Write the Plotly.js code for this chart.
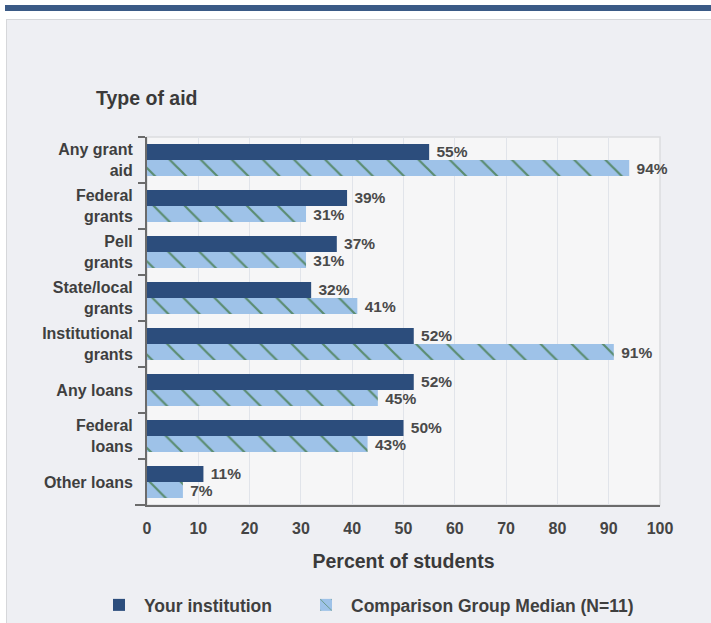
<!DOCTYPE html>
<html><head><meta charset="utf-8">
<script src="https://cdn.plot.ly/plotly-3.0.1.min.js"></script>
<style>
body{margin:0;background:#fff;width:711px;height:623px;overflow:hidden;position:relative;font-family:"Liberation Sans",Arial,sans-serif;}
#band{position:absolute;left:5px;top:5px;right:0;height:6px;background:#3b5a86;}
#panel{position:absolute;left:6px;top:19px;right:-2px;bottom:-2px;background:#eeeff3;border:1px solid #d6d7da;}
#chart{position:absolute;left:0;top:0;width:711px;height:623px;}
</style></head><body>
<div id="band"></div><div id="panel"></div><div id="chart"></div>
<script>
const categories = ["Any grant<br>aid","Federal<br>grants","Pell<br>grants","State/local<br>grants","Institutional<br>grants","Any loans","Federal<br>loans","Other loans"];
const yourInstitution = [55,39,37,32,52,52,50,11];
const comparisonMedian = [94,31,31,41,91,45,43,7];
const xTicks = [0,10,20,30,40,50,60,70,80,90,100];
const seriesNames = ["Your institution","Comparison Group Median (N=11)"];

const labelFont = {family:"Liberation Sans, Arial, sans-serif", size:15.5, color:"#4a4a4a", weight:"bold"};
const fmt = v => "\u00A0<b>" + v + "%</b>";
const traces = [
  {type:"bar", orientation:"h", name:seriesNames[0], legend:"legend", y:categories, x:yourInstitution,
   text:yourInstitution.map(fmt), textposition:"outside", textfont:labelFont, cliponaxis:false, constraintext:"none",
   marker:{color:"#2c4d7c", line:{width:0}}, hoverinfo:"x+y"},
  {type:"bar", orientation:"h", name:seriesNames[1], legend:"legend2", y:categories, x:comparisonMedian,
   text:comparisonMedian.map(fmt), textposition:"outside", textfont:labelFont, cliponaxis:false, constraintext:"none",
   marker:{color:"#9ec2e8", line:{width:0}, pattern:{shape:"\\", bgcolor:"#9ec2e8", fgcolor:"#5a8c70", size:22, solidity:0.1}}, hoverinfo:"x+y"}
];
const legendFont = {size:17.5, color:"#3f3f3f", weight:"bold"};
const layout = {
  width:711, height:623,
  paper_bgcolor:"rgba(0,0,0,0)", plot_bgcolor:"#f6f6f7",
  margin:{l:147, r:51, t:137, b:118},
  font:{family:"Liberation Sans, Arial, sans-serif", color:"#3f3f3f"},
  barmode:"group", bargap:0.3, bargroupgap:0,
  showlegend:true,
  title:{text:"<b>Type of aid</b>", font:{size:19.5, color:"#3a3a3a"}, x:96/711, xanchor:"left", xref:"container", y:1-98/623, yanchor:"middle", yref:"container"},
  xaxis:{range:[0,100], tickvals:xTicks, ticktext:xTicks.map(v=>"<b>"+v+"</b>"), tickfont:{size:16, color:"#444"},
    showgrid:true, gridcolor:"#e1e4ea", gridwidth:1, zeroline:false, showline:true, linecolor:"#6b6b6b", linewidth:2,
    ticks:"", ticklabelstandoff:8, fixedrange:true,
    title:{text:"<b>Percent of students</b>", font:{size:19.5, color:"#3a3a3a"}, standoff:18}},
  yaxis:{autorange:"reversed", tickmode:"array", tickvals:categories, ticktext:categories.map(c=>"<b>"+c+"</b>"),
    tickfont:{size:16, color:"#3f3f3f"}, showline:true, linecolor:"#6b6b6b", linewidth:2,
    ticks:"outside", tickson:"boundaries", ticklen:7, tickcolor:"#6b6b6b", tickwidth:2, showgrid:false, fixedrange:true,
    ticklabelstandoff:9},
  legend:{orientation:"h", xref:"container", yref:"container", x:94/711, xanchor:"left", y:1-605/623, yanchor:"middle",
    font:legendFont, itemwidth:40, bgcolor:"rgba(0,0,0,0)"},
  legend2:{orientation:"h", xref:"container", yref:"container", x:301/711, xanchor:"left", y:1-605/623, yanchor:"middle",
    font:legendFont, itemwidth:40, bgcolor:"rgba(0,0,0,0)"},
  shapes:[
    {type:"rect", xref:"paper", yref:"paper", x0:0, x1:1, y0:0, y1:1, line:{color:"#dcdde0", width:1.5}, layer:"below"},
    {type:"line", xref:"paper", yref:"paper", x0:-12/513, x1:0, y0:0, y1:0, line:{color:"#6b6b6b", width:2}}
  ]
};
Plotly.newPlot("chart", traces, layout, {displayModeBar:false, staticPlot:true});
</script></body></html>
